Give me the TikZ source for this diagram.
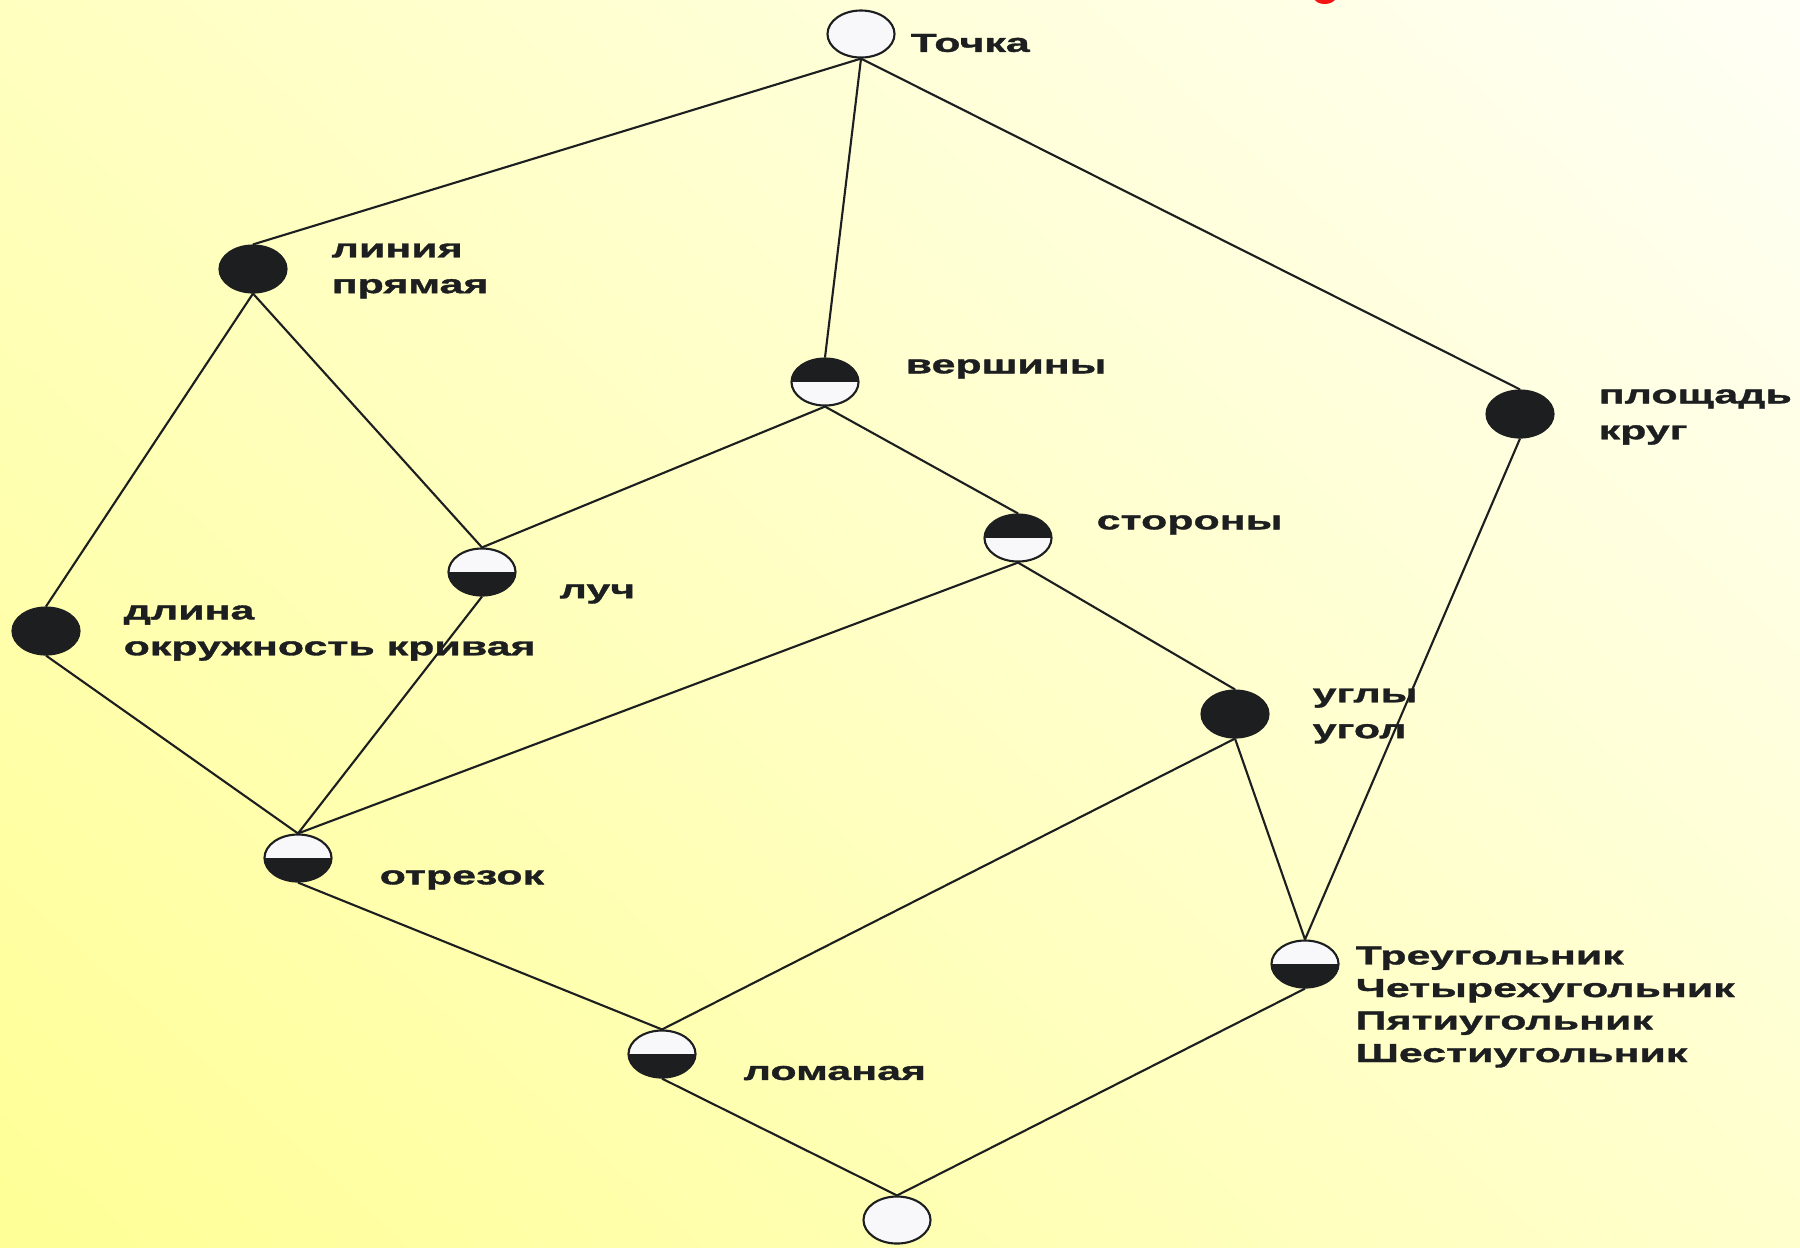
\documentclass[tikz,border=0pt]{standalone}
\usepackage{fontspec}
\usetikzlibrary{shapes.geometric,shadings}
\newfontfamily\lblfont[UprightFont={* Bold},FakeStretch=1.65,FakeBold=1.3]{Liberation Sans}
\definecolor{ink}{RGB}{28,30,32}
\definecolor{paper}{RGB}{248,248,250}
\definecolor{bgLL}{RGB}{255,255,150}
\definecolor{bgUL}{RGB}{255,255,192}
\definecolor{bgLR}{RGB}{255,255,205}
\definecolor{bgUR}{RGB}{255,255,246}
\definecolor{titlered}{RGB}{245,20,20}
\begin{document}
\begin{tikzpicture}[x=0.01cm,y=-0.01cm,
  vtx/.style={ellipse,draw=ink,line width=0.6pt,minimum width=0.67cm,minimum height=0.47cm,inner sep=0pt},
  vwhite/.style={vtx,fill=paper},
  vblack/.style={vtx,fill=ink},
  vtop/.style={vtx,fill=paper,path picture={\fill[ink] (path picture bounding box.north west) rectangle (path picture bounding box.east);}},
  vbot/.style={vtx,fill=paper,path picture={\fill[ink] (path picture bounding box.west) rectangle (path picture bounding box.south east);}},
  lbl/.style={anchor=west,inner sep=0pt,align=left,text=ink,font=\lblfont\fontsize{7.4pt}{10.2pt}\selectfont},
  link/.style={draw=ink,line width=0.6pt}
]
% background
\useasboundingbox (0,0) rectangle (1800,1247);
\shade[lower left=bgLL,upper left=bgUL,lower right=bgLR,upper right=bgUR] (0,0) rectangle (1800,1247);
% foot of a red title letter cut by the top edge
\fill[titlered] (1314,-2) .. controls (1316,6) and (1333,6) .. (1336,-2) -- cycle;

% vertices
\node[vwhite] (tochka)  at (861,34)  {};
\node[vblack] (liniya)  at (253,269) {};
\node[vtop]   (vershiny) at (825,382) {};
\node[vblack] (ploshchad) at (1520,414) {};
\node[vtop]   (storony) at (1018,538) {};
\node[vbot]   (luch)    at (482,572) {};
\node[vblack] (dlina)   at (46,631)  {};
\node[vblack] (ugly)    at (1235,714) {};
\node[vbot]   (otrezok) at (298,858) {};
\node[vbot]   (mnogo)   at (1305,964) {};
\node[vbot]   (lomanaya) at (662,1054) {};
\node[vwhite] (niz)     at (897,1220) {};

% labels
\node[lbl] (tTochka) at (910,43) {Точка};
\node[lbl] (tLiniya) at (331,271) {линия\\прямая};
\node[lbl] (tVershiny) at (905,369) {вершины};
\node[lbl] (tPloshchad) at (1598,417) {площадь\\круг};
\node[lbl] (tStorony) at (1096,525) {стороны};
\node[lbl] (tLuch) at (559,594) {луч};
\node[lbl] (tDlina) at (123,633) {длина\\окружность кривая};
\node[lbl] (tUgly) at (1312,716) {углы\\угол};
\node[lbl] (tOtrezok) at (379,880) {отрезок};
\node[lbl,font=\lblfont\fontsize{7.4pt}{9.25pt}\selectfont] (tMnogo) at (1355,1007)
  {Треугольник\\Четырехугольник\\Пятиугольник\\Шестиугольник};
\node[lbl] (tLomanaya) at (743,1073) {ломаная};

% connectors
\foreach \a/\b in {tochka/liniya, tochka/vershiny, tochka/ploshchad,
                   liniya/dlina, liniya/luch, vershiny/luch, vershiny/storony,
                   storony/otrezok, storony/ugly, dlina/otrezok, luch/otrezok,
                   otrezok/lomanaya, ugly/lomanaya, ugly/mnogo, ploshchad/mnogo,
                   lomanaya/niz, mnogo/niz}
  \draw[link] (\a.south) -- (\b.north);
\end{tikzpicture}
\end{document}
